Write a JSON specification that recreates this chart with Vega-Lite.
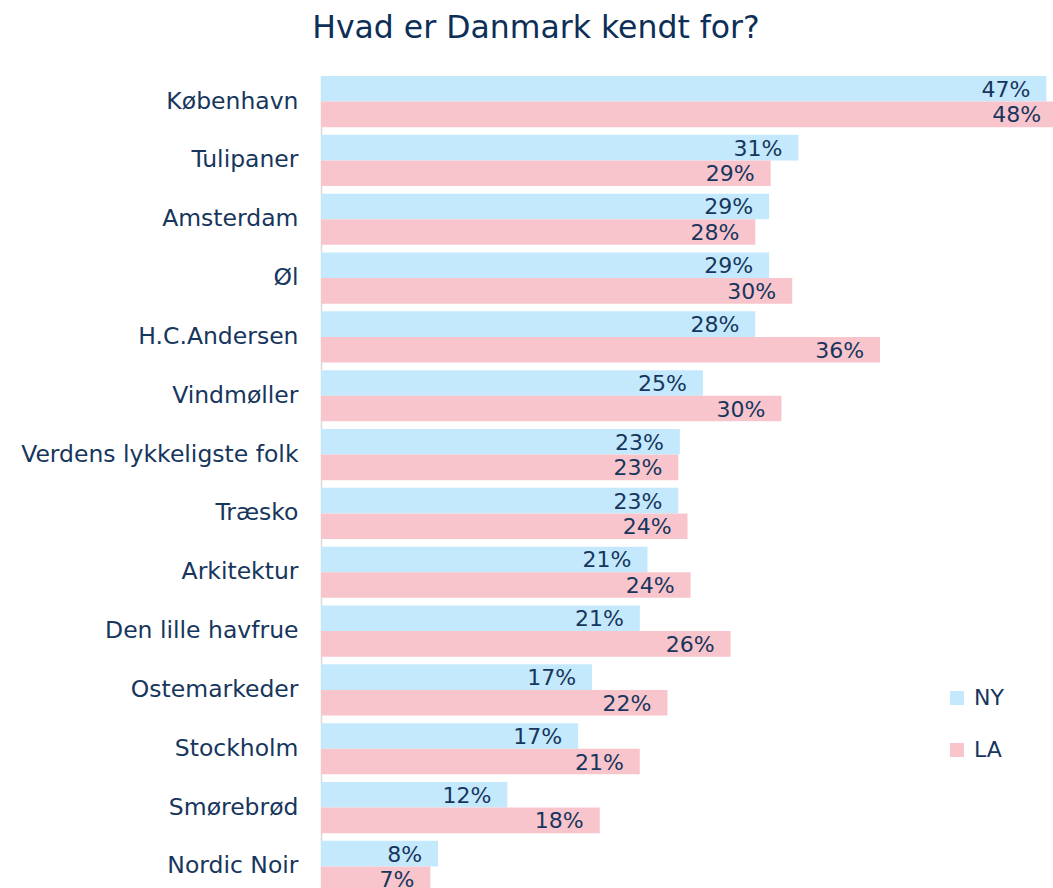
{
  "$schema": "https://vega.github.io/schema/vega-lite/v6.json",
  "autosize": {"type": "none"},
  "padding": {"left": 321, "top": 72, "right": 0, "bottom": 0},
  "width": 732,
  "height": 816,
  "background": "white",
  "title": {
    "text": "Hvad er Danmark kendt for?",
    "anchor": "middle",
    "dx": -151,
    "offset": 28,
    "font": "DejaVu Sans",
    "fontSize": 31.5,
    "fontWeight": "normal",
    "color": "#0d2f57"
  },
  "config": {
    "view": {"stroke": null},
    "font": "DejaVu Sans"
  },
  "data": {
    "values": [
      {"cat": "København", "city": "NY", "value": 47.1, "label": "47%"},
      {"cat": "København", "city": "LA", "value": 47.8, "label": "48%"},
      {"cat": "Tulipaner", "city": "NY", "value": 31.0, "label": "31%"},
      {"cat": "Tulipaner", "city": "LA", "value": 29.2, "label": "29%"},
      {"cat": "Amsterdam", "city": "NY", "value": 29.1, "label": "29%"},
      {"cat": "Amsterdam", "city": "LA", "value": 28.2, "label": "28%"},
      {"cat": "Øl", "city": "NY", "value": 29.1, "label": "29%"},
      {"cat": "Øl", "city": "LA", "value": 30.6, "label": "30%"},
      {"cat": "H.C.Andersen", "city": "NY", "value": 28.2, "label": "28%"},
      {"cat": "H.C.Andersen", "city": "LA", "value": 36.3, "label": "36%"},
      {"cat": "Vindmøller", "city": "NY", "value": 24.8, "label": "25%"},
      {"cat": "Vindmøller", "city": "LA", "value": 29.9, "label": "30%"},
      {"cat": "Verdens lykkeligste folk", "city": "NY", "value": 23.3, "label": "23%"},
      {"cat": "Verdens lykkeligste folk", "city": "LA", "value": 23.2, "label": "23%"},
      {"cat": "Træsko", "city": "NY", "value": 23.2, "label": "23%"},
      {"cat": "Træsko", "city": "LA", "value": 23.8, "label": "24%"},
      {"cat": "Arkitektur", "city": "NY", "value": 21.2, "label": "21%"},
      {"cat": "Arkitektur", "city": "LA", "value": 24.0, "label": "24%"},
      {"cat": "Den lille havfrue", "city": "NY", "value": 20.7, "label": "21%"},
      {"cat": "Den lille havfrue", "city": "LA", "value": 26.6, "label": "26%"},
      {"cat": "Ostemarkeder", "city": "NY", "value": 17.6, "label": "17%"},
      {"cat": "Ostemarkeder", "city": "LA", "value": 22.5, "label": "22%"},
      {"cat": "Stockholm", "city": "NY", "value": 16.7, "label": "17%"},
      {"cat": "Stockholm", "city": "LA", "value": 20.7, "label": "21%"},
      {"cat": "Smørebrød", "city": "NY", "value": 12.1, "label": "12%"},
      {"cat": "Smørebrød", "city": "LA", "value": 18.1, "label": "18%"},
      {"cat": "Nordic Noir", "city": "NY", "value": 7.6, "label": "8%"},
      {"cat": "Nordic Noir", "city": "LA", "value": 7.1, "label": "7%"}
    ]
  },
  "encoding": {
    "y": {
      "field": "cat",
      "type": "nominal",
      "sort": null,
      "scale": {"range": [4, 820], "paddingInner": 0.13, "paddingOuter": 0},
      "axis": {
        "title": null,
        "ticks": false,
        "tickSize": 0,
        "labelPadding": 23,
        "labelFontSize": 23.5,
        "labelLimit": 0,
        "labelColor": "#17365d",
        "labelFont": "DejaVu Sans",
        "domainColor": "#d9d9d9",
        "domainWidth": 1.5
      }
    },
    "yOffset": {"field": "city", "type": "nominal", "sort": ["NY", "LA"], "scale": {"paddingInner": 0, "paddingOuter": 0}},
    "x": {
      "field": "value",
      "type": "quantitative",
      "scale": {"domain": [0, 47.53], "nice": false, "zero": true},
      "axis": null
    }
  },
  "layer": [
    {
      "mark": {"type": "bar", "clip": true, "cornerRadius": 0},
      "encoding": {
        "color": {
          "field": "city",
          "type": "nominal",
          "scale": {"domain": ["NY", "LA"], "range": ["#c4e9fc", "#f9c5cd"]},
          "legend": {
            "title": null,
            "orient": "none",
            "legendX": 625,
            "legendY": 615,
            "padding": 0,
            "symbolType": "square",
            "symbolSize": 196,
            "symbolStrokeWidth": 0,
            "labelFontSize": 22,
            "labelFont": "DejaVu Sans",
            "labelColor": "#17365d",
            "labelOffset": 6,
            "rowPadding": 30
          }
        }
      }
    },
    {
      "mark": {"type": "text", "align": "right", "baseline": "middle", "dx": -16, "dy": 1, "fontSize": 22, "color": "#17365d", "clip": true},
      "encoding": {
        "text": {"field": "label", "type": "nominal"}
      }
    }
  ]
}
